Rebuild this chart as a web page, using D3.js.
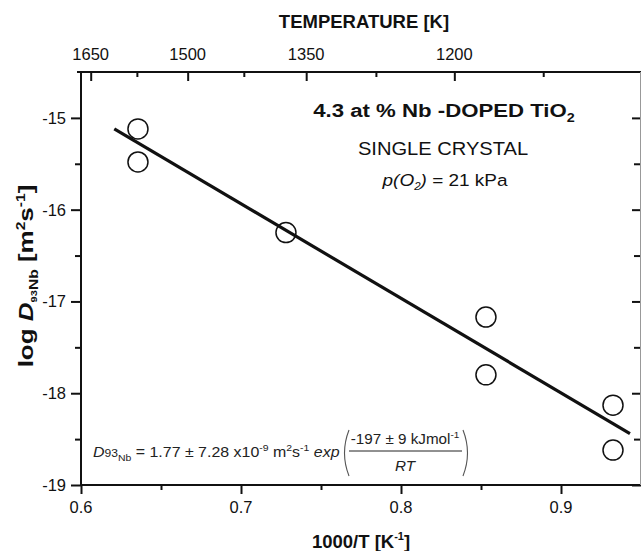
<!DOCTYPE html>
<html><head><meta charset="utf-8">
<script src="https://cdn.jsdelivr.net/npm/d3@7"></script>
<style>
html,body{margin:0;padding:0;background:#fff;}
svg{display:block;font-family:Arial,"Liberation Sans",Helvetica,sans-serif;}
</style></head>
<body><svg id="c" width="641" height="551"></svg>
<script>
// ---- data ----
const invT = [0.6356, 0.6356, 0.7281, 0.8531, 0.8531, 0.9325, 0.9325];
const logD = [-15.12, -15.48, -16.25, -17.17, -17.80, -18.13, -18.62];
const fitInvT = [0.6208, 0.9431];
const fitLogD = [-15.12, -18.44];
const xMajor = [0.6, 0.7, 0.8, 0.9];
const xMinor = [0.65, 0.75, 0.85];
const yMajor = [-19, -18, -17, -16, -15];
const yMinor = [-18.5, -17.5, -16.5, -15.5];
const tempMajor = [1650, 1500, 1350, 1200];
const tempMinor = [1575, 1425, 1275, 1125];

const svg = d3.select("#c");
const x = d3.scaleLinear().domain([0.6, 0.95]).range([81, 641]);
const y = d3.scaleLinear().domain([-19, -14.5]).range([485, 72]);
const ink = "#111";

function styleAxis(g, w) {
  g.select(".domain").remove();
  g.selectAll(".tick line").attr("stroke", ink).attr("stroke-width", w);
  g.selectAll("text").remove();
}
// bottom
svg.append("g").attr("transform","translate(0,485)")
  .call(d3.axisBottom(x).tickValues(xMajor).tickSize(9).tickSizeOuter(0)).call(g=>styleAxis(g,2));
svg.append("g").attr("transform","translate(0,485)")
  .call(d3.axisBottom(x).tickValues(xMinor).tickSize(5).tickSizeOuter(0)).call(g=>styleAxis(g,2));
// left
svg.append("g").attr("transform","translate(81,0)")
  .call(d3.axisLeft(y).tickValues(yMajor).tickSize(10).tickSizeOuter(0)).call(g=>styleAxis(g,2));
svg.append("g").attr("transform","translate(81,0)")
  .call(d3.axisLeft(y).tickValues(yMinor).tickSize(6).tickSizeOuter(0)).call(g=>styleAxis(g,2));
// right (inward)
svg.append("g").attr("transform","translate(641,0)")
  .call(d3.axisRight(y).tickValues(yMajor).tickSize(-9).tickSizeOuter(0)).call(g=>styleAxis(g,2));
svg.append("g").attr("transform","translate(641,0)")
  .call(d3.axisRight(y).tickValues(yMinor).tickSize(-7).tickSizeOuter(0)).call(g=>styleAxis(g,2));
// top (inward), temperature
svg.append("g").attr("transform","translate(0,72)")
  .call(d3.axisTop(x).tickValues(tempMajor.map(t=>1000/t)).tickSize(-9).tickSizeOuter(0)).call(g=>styleAxis(g,2));
svg.append("g").attr("transform","translate(0,72)")
  .call(d3.axisTop(x).tickValues(tempMinor.map(t=>1000/t)).tickSize(-5).tickSizeOuter(0)).call(g=>styleAxis(g,2));

// frame
svg.append("line").attr("x1",81).attr("x2",81).attr("y1",71).attr("y2",486).attr("stroke",ink).attr("stroke-width",2);
svg.append("line").attr("x1",77).attr("x2",641).attr("y1",72).attr("y2",72).attr("stroke",ink).attr("stroke-width",2);
svg.append("line").attr("x1",80).attr("x2",641).attr("y1",485).attr("y2",485).attr("stroke",ink).attr("stroke-width",2);
svg.append("line").attr("x1",640.5).attr("x2",640.5).attr("y1",72).attr("y2",485).attr("stroke","#999").attr("stroke-width",1);

// tick labels
const tickFont = 16.5;
svg.append("g").selectAll("text").data(xMajor).join("text")
  .attr("x", d=>x(d)).attr("y", 513).attr("text-anchor","middle")
  .attr("font-size", tickFont).attr("fill", ink).text(d3.format(".1f"));
svg.append("g").selectAll("text").data(yMajor).join("text")
  .attr("x", 66).attr("y", d=>y(d)+6).attr("text-anchor","end")
  .attr("font-size", tickFont).attr("fill", ink).text(d=>d);
svg.append("g").selectAll("text").data(tempMajor).join("text")
  .attr("x", d=>x(1000/d)).attr("y", 60).attr("text-anchor","middle")
  .attr("font-size", tickFont).attr("fill", ink).text(d=>d);

// axis titles
svg.append("text").attr("x", 364).attr("y", 27.5).attr("text-anchor","middle")
  .attr("font-size", 18.5).attr("font-weight","bold").attr("fill", ink).text("TEMPERATURE [K]");
const xl = svg.append("text").attr("x", 361).attr("y", 548).attr("text-anchor","middle")
  .attr("font-size", 18.5).attr("font-weight","bold").attr("fill", ink);
xl.append("tspan").text("1000/T [K");
xl.append("tspan").attr("font-size", 11).attr("dy", -8).text("-1");
xl.append("tspan").attr("dy", 8).text("]");

const yl = svg.append("text").attr("transform","translate(33,276) rotate(-90) scale(1.3,1)").attr("text-anchor","middle")
  .attr("font-size", 20).attr("font-weight","bold").attr("fill", ink);
yl.append("tspan").text("log ");
yl.append("tspan").attr("font-style","italic").text("D");
yl.append("tspan").attr("font-size", 8.5).attr("dy", 4).text("93");
yl.append("tspan").attr("font-size", 12).attr("dy", 1).text("Nb");
yl.append("tspan").attr("dy", -5).text(" [m");
yl.append("tspan").attr("font-size", 12).attr("dy", -8).text("2");
yl.append("tspan").attr("dy", 8).text("s");
yl.append("tspan").attr("font-size", 12).attr("dy", -8).text("-1");
yl.append("tspan").attr("dy", 8).text("]");

// fit line
svg.append("path").datum(d3.zip(fitInvT, fitLogD))
  .attr("d", d3.line().x(d=>x(d[0])).y(d=>y(d[1])))
  .attr("stroke", ink).attr("stroke-width", 3.2).attr("fill","none");
// points
svg.append("g").selectAll("circle").data(d3.zip(invT, logD)).join("circle")
  .attr("cx", d=>x(d[0])).attr("cy", d=>y(d[1])).attr("r", 10)
  .attr("fill","none").attr("stroke", ink).attr("stroke-width", 1.5);

// annotations
function stretched(xc, yb, sx) {
  return svg.append("g").attr("transform", `translate(${xc},${yb}) scale(${sx},1)`);
}
const t1 = stretched(444, 117, 1.2).append("text").attr("text-anchor","middle")
  .attr("font-size", 18.5).attr("font-weight","bold").attr("fill", ink);
t1.append("tspan").text("4.3 at % Nb -DOPED TiO");
t1.append("tspan").attr("font-size", 12).attr("dy", 5).text("2");
stretched(443, 155, 1.15).append("text").attr("text-anchor","middle")
  .attr("font-size", 17.5).attr("fill", ink).text("SINGLE CRYSTAL");
const t3 = stretched(445, 186, 1.15).append("text").attr("text-anchor","middle")
  .attr("font-size", 16.5).attr("fill", ink);
t3.append("tspan").attr("font-style","italic").text("p(O");
t3.append("tspan").attr("font-style","italic").attr("font-size", 10).attr("dy", 4).text("2");
t3.append("tspan").attr("font-style","italic").attr("dy", -4).text(")");
t3.append("tspan").text(" = 21 kPa");

// equation
const eq = stretched(93, 457, 1.1).append("text").attr("font-size", 14.5).attr("fill", "#222");
eq.append("tspan").attr("font-style","italic").text("D");
eq.append("tspan").attr("font-size", 11).text("93");
eq.append("tspan").attr("font-size", 9.5).attr("dy", 4).text("Nb");
eq.append("tspan").attr("dy", -4).text(" = 1.77 \u00b1 7.28 x10");
eq.append("tspan").attr("font-size", 9.5).attr("dy", -6).text("-9");
eq.append("tspan").attr("dy", 6).text(" m");
eq.append("tspan").attr("font-size", 9.5).attr("dy", -6).text("2");
eq.append("tspan").attr("dy", 6).text("s");
eq.append("tspan").attr("font-size", 9.5).attr("dy", -6).text("-1");
eq.append("tspan").attr("font-style","italic").attr("dy", 6).text(" exp");
const num = stretched(405, 444, 1.05).append("text").attr("text-anchor","middle").attr("font-size", 14.5).attr("fill","#222");
num.append("tspan").text("-197 \u00b1 9 kJmol");
num.append("tspan").attr("font-size", 9.5).attr("dy", -6).text("-1");
stretched(405, 471, 1.05).append("text").attr("text-anchor","middle").attr("font-size", 14.5)
  .attr("font-style","italic").attr("fill","#222").text("RT");
svg.append("line").attr("x1",349).attr("x2",462).attr("y1",451).attr("y2",451).attr("stroke","#222").attr("stroke-width",1);
svg.append("path").attr("d","M349,430 Q340,453 349,476").attr("fill","none").attr("stroke","#555").attr("stroke-width",1.1);
svg.append("path").attr("d","M463,430 Q472,453 463,476").attr("fill","none").attr("stroke","#555").attr("stroke-width",1.1);
</script></body></html>
